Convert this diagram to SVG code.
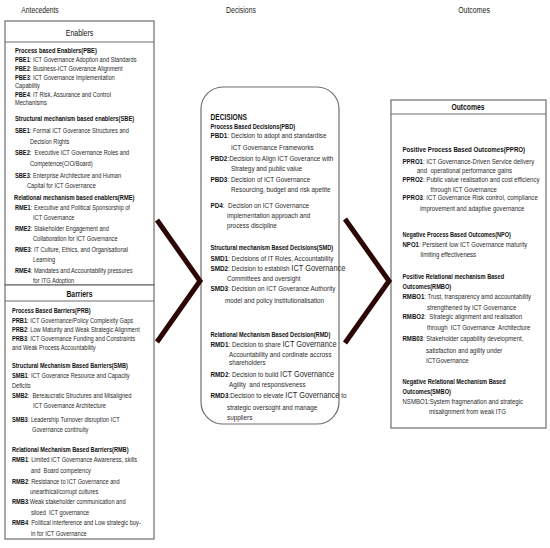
<svg xmlns="http://www.w3.org/2000/svg" width="550" height="548" viewBox="0 0 550 548">
<style>
text{font-family:"Liberation Sans",Arial,sans-serif;fill:#2a2a2a;font-size:6.8px}
.col{font-size:8.2px;fill:#222}
.hd{font-size:8.5px;fill:#111}
.hb{font-size:8.5px;font-weight:bold;fill:#111}
.sh{font-weight:bold;fill:#111;font-size:7px}
.b{font-weight:bold;fill:#111}
.m{font-size:7.2px}
.r{font-size:7px}
.big{font-size:8.4px}
.box{fill:#fff;stroke:#6e6e6e;stroke-width:1.2}
.chev{fill:none;stroke:#2c0505;stroke-width:5;stroke-linejoin:miter;stroke-linecap:butt}
</style>
<rect width="550" height="548" fill="#fff"/>

<g id="column-titles">
<text class="col" transform="translate(40 13) scale(.82 1)" text-anchor="middle">Antecedents</text>
<text class="col" transform="translate(241 13) scale(.84 1)" text-anchor="middle">Decisions</text>
<text class="col" transform="translate(474 13) scale(.85 1)" text-anchor="middle">Outcomes</text>
</g>

<g id="enablers">
<rect class="box" x="5" y="21" width="149" height="264"/>
<line class="box" x1="5" y1="42" x2="154" y2="42"/>
<text class="hd" transform="translate(79.5 36) scale(.82 1)" text-anchor="middle">Enablers</text>
<text class="sh" transform="translate(15 52.5) scale(.82 1)">Process based Enablers(PBE)</text>
<text transform="translate(15 61.5) scale(.835 1)"><tspan class="b">PBE1</tspan>: ICT Governance Adoption and Standards</text>
<text transform="translate(15 70.5) scale(.835 1)"><tspan class="b">PBE2</tspan>: Business-ICT Goverance Alignment</text>
<text transform="translate(15 79.5) scale(.835 1)"><tspan class="b">PBE3</tspan>: ICT Governance Implementation</text>
<text transform="translate(15 88) scale(.835 1)">Capability</text>
<text transform="translate(15 96.5) scale(.835 1)"><tspan class="b">PBE4</tspan>: IT Risk, Assurance and Control</text>
<text transform="translate(15 105) scale(.835 1)">Mechanisms</text>
<text class="sh" transform="translate(15 121) scale(.82 1)">Structural mechanism based enablers(SBE)</text>
<text transform="translate(15 132.5) scale(.835 1)"><tspan class="b">SBE1</tspan>: Formal ICT Goverance Structures and</text>
<text transform="translate(30 143.5) scale(.835 1)">Decision Rights</text>
<text transform="translate(15 154.5) scale(.835 1)" xml:space="preserve"><tspan class="b">SBE2</tspan>:  Executive ICT Governance Roles and</text>
<text transform="translate(30 165.5) scale(.835 1)">Competence(CIO/Board)</text>
<text transform="translate(15 177.5) scale(.835 1)"><tspan class="b">SBE3</tspan>: Enterprise Architecture and Human</text>
<text transform="translate(27 188) scale(.835 1)">Capital for ICT Governance</text>
<text class="sh" transform="translate(14 199.5) scale(.82 1)">Relational mechanism based enablers(RME)</text>
<text transform="translate(15 210) scale(.835 1)"><tspan class="b">RME1</tspan>: Executive and Political Sponsorship of</text>
<text transform="translate(33 220) scale(.835 1)">ICT Governance</text>
<text transform="translate(15 231) scale(.835 1)"><tspan class="b">RME2</tspan>: Stakeholder Engagement and</text>
<text transform="translate(33 241) scale(.835 1)">Collaboration for ICT Governance</text>
<text transform="translate(15 251.5) scale(.835 1)"><tspan class="b">RME3</tspan>: IT Culture, Ethics, and Organisational</text>
<text transform="translate(33 262) scale(.835 1)">Learning</text>
<text transform="translate(15 273) scale(.835 1)"><tspan class="b">RME4</tspan>: Mandates and Accountability pressures</text>
<text transform="translate(33 282.5) scale(.835 1)">for ITG Adoption</text>
</g>

<g id="barriers">
<rect class="box" x="5" y="285" width="149" height="254"/>
<line class="box" x1="5" y1="301" x2="154" y2="301"/>
<text class="hb" transform="translate(79.5 297) scale(.8 1)" text-anchor="middle">Barriers</text>
<text class="sh" transform="translate(12 312.5) scale(.8 1)">Process Based Barriers(PRB)</text>
<text transform="translate(12 322.5) scale(.835 1)"><tspan class="b">PRB1</tspan>: ICT Governance/Policy Complexity Gaps</text>
<text transform="translate(12 331.5) scale(.835 1)"><tspan class="b">PRB2</tspan>: Low Maturity and Weak Strategic Alignment</text>
<text transform="translate(12 340.5) scale(.835 1)"><tspan class="b">PRB3</tspan>: ICT Governance Funding and Constraints</text>
<text transform="translate(12 350) scale(.835 1)">and Weak Process Accountability</text>
<text class="sh" transform="translate(12 367.5) scale(.8 1)">Structural Mechanism Based Barriers(SMB)</text>
<text transform="translate(12 377.5) scale(.835 1)"><tspan class="b">SMB1</tspan>: ICT Goverance Resource and Capacity</text>
<text transform="translate(12 387.5) scale(.835 1)">Deficits</text>
<text transform="translate(12 398) scale(.835 1)" xml:space="preserve"><tspan class="b">SMB2</tspan>:  Bereaucratic Structures and Misaligned</text>
<text transform="translate(33 408) scale(.835 1)">ICT Governance Architecture</text>
<text transform="translate(12 421.5) scale(.835 1)"><tspan class="b">SMB3</tspan>: Leadership Turnover disruption ICT</text>
<text transform="translate(32 431.5) scale(.835 1)">Governance continuity</text>
<text class="sh" transform="translate(12 451.5) scale(.8 1)">Relational Mechanism Based Barriers(RMB)</text>
<text transform="translate(12 462) scale(.835 1)"><tspan class="b">RMB1</tspan>: Limited ICT Governance Awareness, skills</text>
<text transform="translate(31 473) scale(.835 1)" xml:space="preserve">and  Board competency</text>
<text transform="translate(12 483.5) scale(.835 1)"><tspan class="b">RMB2</tspan>: Resistance to ICT Governance and</text>
<text transform="translate(30 493.5) scale(.835 1)">unearthical/corrupt cultures</text>
<text transform="translate(12 503.5) scale(.835 1)"><tspan class="b">RMB3</tspan>:Weak stakeholder communication and</text>
<text transform="translate(31 514.5) scale(.835 1)" xml:space="preserve">siloed  ICT governance</text>
<text transform="translate(12 525) scale(.835 1)"><tspan class="b">RMB4</tspan>: Political interference and Low strategic buy-</text>
<text transform="translate(31 536) scale(.835 1)">in for ICT Governance</text>
</g>

<g id="decisions">
<rect class="box" x="201" y="87" width="138" height="337" rx="22" ry="22"/>
<text class="b" transform="translate(210.5 120) scale(.72 1)" style="font-size:9.2px">DECISIONS</text>
<text class="sh" transform="translate(210.5 129) scale(.81 1)">Process Based Decisions(PBD)</text>
<text class="m" transform="translate(210.5 138) scale(.88 1)"><tspan class="b">PBD1</tspan>: Decision to adopt and standardise</text>
<text class="m" transform="translate(231 149.5) scale(.88 1)">ICT Governance Frameworks</text>
<text class="m" transform="translate(210.5 160.5) scale(.88 1)"><tspan class="b">PBD2</tspan>:Decision to Align ICT Goverance with</text>
<text class="m" transform="translate(231 170.5) scale(.88 1)">Strategy and public value</text>
<text class="m" transform="translate(210.5 181.5) scale(.88 1)"><tspan class="b">PBD3</tspan>: Decision of ICT Governance</text>
<text class="m" transform="translate(231 192) scale(.88 1)">Resourcing, budget and risk apetite</text>
<text class="m" transform="translate(210.5 207.5) scale(.88 1)" xml:space="preserve"><tspan class="b">PD4</tspan>:  Decision on ICT Governance</text>
<text class="m" transform="translate(227 217.5) scale(.88 1)">implementation approach and</text>
<text class="m" transform="translate(227 227.5) scale(.88 1)">process discipline</text>
<text class="sh" transform="translate(210.5 250) scale(.81 1)">Structural mechanism Based Decisions(SMD)</text>
<text class="m" transform="translate(210.5 260.5) scale(.88 1)"><tspan class="b">SMD1</tspan>: Decisions of IT Roles, Accountability</text>
<text class="m" transform="translate(210.5 270.5) scale(.88 1)"><tspan class="b">SMD2</tspan>: Decision to establish <tspan class="big">ICT Governance</tspan></text>
<text class="m" transform="translate(227 280.5) scale(.88 1)">Committees and oversight</text>
<text class="m" transform="translate(210.5 290.5) scale(.88 1)"><tspan class="b">SMD3</tspan>: Decision on ICT Goverance Authority</text>
<text class="m" transform="translate(225 302.5) scale(.88 1)">model and policy institutionalisation</text>
<text class="sh" transform="translate(210.5 336.5) scale(.81 1)">Relational Mechanism Based Decision(RMD)</text>
<text class="m" transform="translate(210.5 346.5) scale(.88 1)"><tspan class="b">RMD1</tspan>: Decision to share <tspan class="big">ICT Governance</tspan></text>
<text class="m" transform="translate(229 356.5) scale(.88 1)">Accountability and cordinate accross</text>
<text class="m" transform="translate(229 365) scale(.88 1)">shareholders</text>
<text class="m" transform="translate(210.5 376.5) scale(.88 1)"><tspan class="b">RMD2</tspan>: Decision to build <tspan class="big">ICT Governance</tspan></text>
<text class="m" transform="translate(229 386.5) scale(.88 1)" xml:space="preserve">Agility  and responsiveness</text>
<text class="m" transform="translate(210.5 397.5) scale(.88 1)"><tspan class="b">RMD3</tspan>:Decision to elevate <tspan class="big">ICT Governance</tspan> to</text>
<text class="m" transform="translate(227 409.5) scale(.88 1)">strategic oversoght and manage</text>
<text class="m" transform="translate(227 419.5) scale(.88 1)">suppliers</text>
</g>

<g id="outcomes">
<rect class="box" x="391" y="100" width="155" height="328"/>
<line class="box" x1="391" y1="114" x2="546" y2="114"/>
<text class="hb" transform="translate(468 110) scale(.8 1)" text-anchor="middle">Outcomes</text>
<text class="sh" transform="translate(402.5 151.5) scale(.81 1)" style="font-size:7.6px">Positive Process Based Outcomes(PPRO)</text>
<text class="r" transform="translate(402.5 163.5) scale(.865 1)"><tspan class="b">PPRO1</tspan>: ICT Governance-Driven Service delivery</text>
<text class="r" transform="translate(417 172.5) scale(.865 1)" xml:space="preserve">and  operational performance gains</text>
<text class="r" transform="translate(402.5 181.5) scale(.865 1)"><tspan class="b">PPRO2</tspan>: Public value realisation and cost efficiency</text>
<text class="r" transform="translate(430.5 191.5) scale(.865 1)">through ICT Governance</text>
<text class="r" transform="translate(402.5 200) scale(.865 1)"><tspan class="b">PPRO3</tspan>: ICT Governance Risk control, compliance</text>
<text class="r" transform="translate(420 210.5) scale(.865 1)">improvement and adaptive governance</text>
<text class="sh" transform="translate(402.5 236.5) scale(.79 1)">Negative Process Based Outcomes(NPO)</text>
<text class="r" transform="translate(402.5 246.5) scale(.865 1)"><tspan class="b">NPO1</tspan>: Persisent low ICT Governance maturity</text>
<text class="r" transform="translate(420.5 256.5) scale(.865 1)">limiting effectiveness</text>
<text class="sh" transform="translate(402.5 279) scale(.81 1)">Positive Relational mechanism Based</text>
<text class="sh" transform="translate(402.5 289) scale(.81 1)">Outcomes(RMBO)</text>
<text class="r" transform="translate(402.5 299) scale(.865 1)"><tspan class="b">RMBO1</tspan>: Trust, transparency amd accountability</text>
<text class="r" transform="translate(427 309.5) scale(.865 1)">strengthened by ICT Governance</text>
<text class="r" transform="translate(402.5 319) scale(.865 1)" xml:space="preserve"><tspan class="b">RMBO2</tspan>:  Strategic alignment and realisation</text>
<text class="r" transform="translate(427 329.5) scale(.865 1)" xml:space="preserve">through  ICT Governance  Architecture</text>
<text class="r" transform="translate(402.5 340.5) scale(.865 1)"><tspan class="b">RMB03</tspan>: Stakeholder capability development,</text>
<text class="r" transform="translate(426 352.5) scale(.865 1)">satisfaction and agility under</text>
<text class="r" transform="translate(426 362.5) scale(.865 1)">ICTGovernance</text>
<text class="sh" transform="translate(402.5 384) scale(.81 1)">Negative Relational Mechanism Based</text>
<text class="sh" transform="translate(402.5 394) scale(.81 1)">Outcomes(SMBO)</text>
<text class="r" transform="translate(402.5 403.5) scale(.865 1)">NSMBO1:System fragmenation and strategic</text>
<text class="r" transform="translate(429 413.5) scale(.865 1)">misalignment from weak ITG</text>
</g>

<g id="connectors">
<polyline class="chev" points="157,220 200,281 157,342"/>
<polyline class="chev" points="345,219 389,281 345,343"/>
</g>
</svg>
